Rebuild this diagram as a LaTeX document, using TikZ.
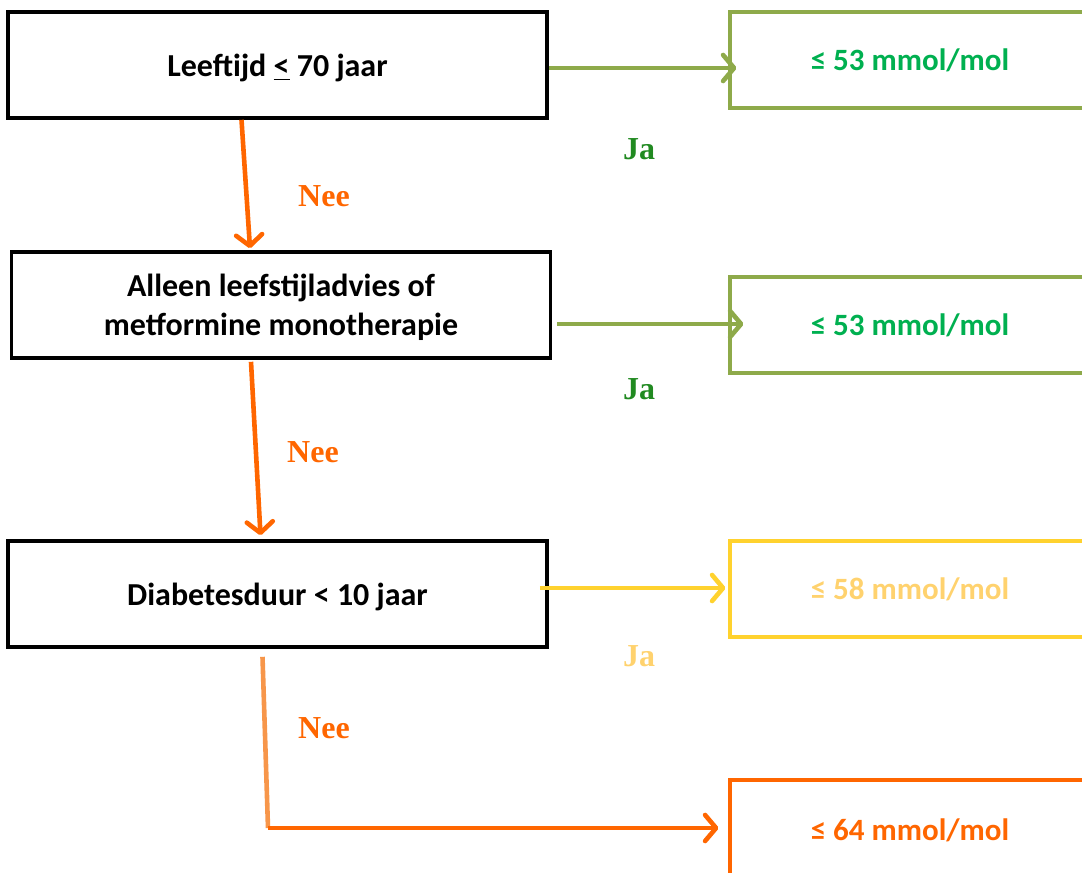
\documentclass[tikz,border=0pt]{standalone}
\usepackage{fontspec}
\setmainfont{Carlito}
\newfontfamily\labelfont{Liberation Serif}
\usetikzlibrary{arrows.meta,calc,positioning}

\definecolor{olijf}{HTML}{8EAA4A}
\definecolor{groen}{HTML}{00B050}
\definecolor{jagroen}{HTML}{218A21}
\definecolor{geel}{HTML}{FFD22E}
\definecolor{lichtgeel}{HTML}{FFD26E}
\definecolor{oranje}{HTML}{FF6600}
\definecolor{lichtoranje}{HTML}{F7964A}

\begin{document}
\begin{tikzpicture}[x=0.5pt, y=-0.5pt,
    vraag/.style={draw=black, line width=1.8pt, fill=white, minimum width=269.5pt, minimum height=53pt,
      align=center, text depth=0pt, font=\fontsize{16}{19.5}\selectfont\bfseries},
    doel/.style={line width=1.6pt, minimum width=180pt, minimum height=48pt, text depth=0pt,
      font=\fontsize{15.5}{18}\selectfont\bfseries},
    pijl/.style={line width=2.3pt, -{Straight Barb[length=5.5pt,width=13pt,round]}},
    antwoord/.style={font=\fontsize{16}{19}\labelfont\bfseries}]

    % Kader en achtergrond
    \useasboundingbox (0,0) rectangle (1082,873);
    \clip (0,0) rectangle (1082,873);

    % Vragen
    \node[vraag] (leeftijd) at (277.5,65) {Leeftijd \underline{<} 70 jaar};
    \node[vraag] (leefstijl) at (281,305) {Alleen leefstijladvies of\\metformine monotherapie};
    \node[vraag] (duur) at (277.5,594) {Diabetesduur < 10 jaar};

    % Streefwaarden
    \node[doel, draw=olijf, text=groen] (doel1) at (910,60) {≤ 53 mmol/mol};
    \node[doel, draw=olijf, text=groen] (doel2) at (910,325) {≤ 53 mmol/mol};
    \node[doel, draw=geel, text=lichtgeel] (doel3) at (910,589) {≤ 58 mmol/mol};
    \node[doel, draw=oranje, text=oranje, minimum height=50pt] (doel4) at (910,830) {≤ 64 mmol/mol};

    % Ja-pijlen
    \draw[pijl, olijf] ($(leeftijd.east)+(0,3)$) -- ($(leeftijd.east -| doel1.west)+(8,3)$);
    \draw[pijl, olijf] ($(leefstijl.east)+(5,19)$) -- ($(leefstijl.east -| doel2.west)+(15,19)$);
    \draw[pijl, geel] ($(duur.east)+(-9,-6)$) -- ($(duur.east -| doel3.west)+(-3,-6)$);

    % Nee-pijlen
    \draw[pijl, oranje] ($(leeftijd.south)+(-36,0)$) -- ($(leefstijl.north)+(-31,-2)$);
    \draw[pijl, oranje] ($(leefstijl.south)+(-30,2)$) -- ($(duur.north)+(-17,-4)$);
    \coordinate (hoek) at (268,828);
    \draw[line width=2.3pt, lichtoranje] ($(duur.south)+(-15,8)$) -- (hoek);
    \draw[pijl, oranje] (hoek) -- ($(doel4.west)+(-10,-2)$);

    % Labels
    \node[antwoord, text=jagroen] (ja1) at (639,149) {Ja};
    \node[antwoord, text=jagroen] (ja2) at (639,389) {Ja};
    \node[antwoord, text=lichtgeel] (ja3) at (639,656) {Ja};
    \node[antwoord, text=oranje] (nee1) at (324,196) {Nee};
    \node[antwoord, text=oranje] (nee2) at (313,452) {Nee};
    \node[antwoord, text=oranje] (nee3) at (324,728) {Nee};
\end{tikzpicture}
\end{document}
